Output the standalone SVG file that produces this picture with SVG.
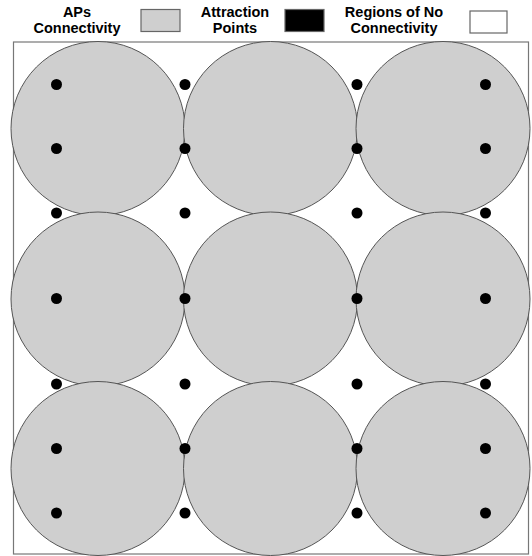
<svg xmlns="http://www.w3.org/2000/svg" width="532" height="556" viewBox="0 0 532 556">
<style>
.lbl{font-family:"Liberation Sans",Arial,sans-serif;font-weight:bold;font-size:14.5px;fill:#000;text-anchor:middle}
.ap{fill:#cfcfcf;stroke:#555;stroke-width:1}
.pt{fill:#000}
.box{stroke:#666;stroke-width:1.2}
</style>
<rect width="532" height="556" fill="#fff"/>
<g id="legend">
<text class="lbl" x="77" y="16.5">APs</text>
<text class="lbl" x="77" y="33">Connectivity</text>
<rect class="box" x="141" y="9.5" width="39" height="22" fill="#cfcfcf"/>
<text class="lbl" x="235" y="16.5">Attraction</text>
<text class="lbl" x="235" y="33">Points</text>
<rect class="box" x="285" y="9.5" width="39" height="22" fill="#000"/>
<text class="lbl" x="394" y="16.5">Regions of No</text>
<text class="lbl" x="394" y="33">Connectivity</text>
<rect class="box" x="470" y="11" width="37" height="22" fill="#fff"/>
</g>
<rect id="frame" x="13.5" y="42" width="515" height="512" fill="#fff" stroke="#777" stroke-width="1.2"/>
<g id="aps">
<circle class="ap" cx="98" cy="128.5" r="87"/>
<circle class="ap" cx="270.5" cy="128.5" r="87"/>
<circle class="ap" cx="443" cy="128.5" r="87"/>
<circle class="ap" cx="98" cy="299" r="87"/>
<circle class="ap" cx="270.5" cy="299" r="87"/>
<circle class="ap" cx="443" cy="299" r="87"/>
<circle class="ap" cx="98" cy="468.5" r="87"/>
<circle class="ap" cx="270.5" cy="468.5" r="87"/>
<circle class="ap" cx="443" cy="468.5" r="87"/>
</g>
<g id="points">
<g id="r1"><circle class="pt" cx="56.5" cy="84.5" r="5.5"/><circle class="pt" cx="185" cy="84.5" r="5.5"/><circle class="pt" cx="357" cy="84.5" r="5.5"/><circle class="pt" cx="485.5" cy="84.5" r="5.5"/></g>
<g id="r2"><circle class="pt" cx="56.5" cy="148.5" r="5.5"/><circle class="pt" cx="185" cy="148.5" r="5.5"/><circle class="pt" cx="357" cy="148.5" r="5.5"/><circle class="pt" cx="485.5" cy="148.5" r="5.5"/></g>
<g id="r3"><circle class="pt" cx="56.5" cy="213" r="5.5"/><circle class="pt" cx="185" cy="213" r="5.5"/><circle class="pt" cx="357" cy="213" r="5.5"/><circle class="pt" cx="485.5" cy="213" r="5.5"/></g>
<g id="r4"><circle class="pt" cx="56.5" cy="298.5" r="5.5"/><circle class="pt" cx="185" cy="298.5" r="5.5"/><circle class="pt" cx="357" cy="298.5" r="5.5"/><circle class="pt" cx="485.5" cy="298.5" r="5.5"/></g>
<g id="r5"><circle class="pt" cx="56.5" cy="384" r="5.5"/><circle class="pt" cx="185" cy="384" r="5.5"/><circle class="pt" cx="357" cy="384" r="5.5"/><circle class="pt" cx="485.5" cy="384" r="5.5"/></g>
<g id="r6"><circle class="pt" cx="56.5" cy="448.5" r="5.5"/><circle class="pt" cx="185" cy="448.5" r="5.5"/><circle class="pt" cx="357" cy="448.5" r="5.5"/><circle class="pt" cx="485.5" cy="448.5" r="5.5"/></g>
<g id="r7"><circle class="pt" cx="56.5" cy="513" r="5.5"/><circle class="pt" cx="185" cy="513" r="5.5"/><circle class="pt" cx="357" cy="513" r="5.5"/><circle class="pt" cx="485.5" cy="513" r="5.5"/></g>
</g>
</svg>
